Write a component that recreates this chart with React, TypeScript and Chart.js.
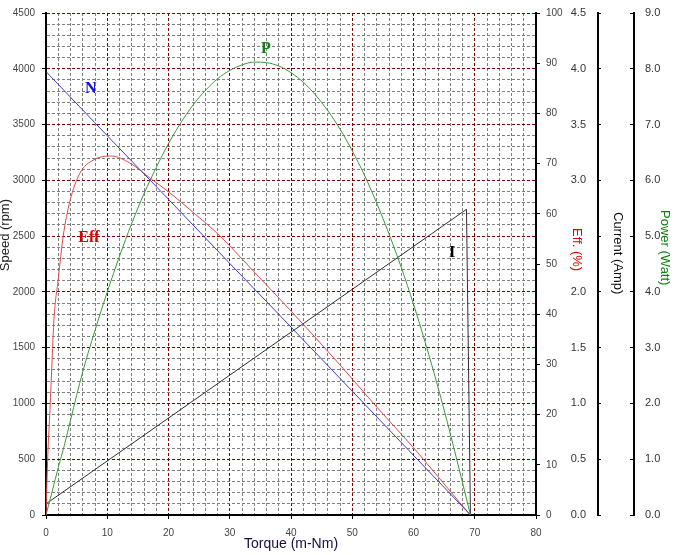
import { useEffect, useRef } from "react";
import { Chart, registerables } from "chart.js";

Chart.register(...registerables);

// speed (rpm) vs torque (m-Nm)
const speedTorque = [0, 10, 20, 30, 40, 50, 60, 69.3];
const speedValues = [3975, 3400, 2830, 2255, 1685, 1110, 535, 0];

// efficiency (%)
const effTorque = [0, 0.3, 0.65, 1.0, 1.3, 2.0, 2.8, 3.9, 5.5, 7.7, 10.7, 13.7, 17, 20.2, 24, 28.4, 33.3, 40.1, 48, 54, 60, 64.3, 67.6, 69.3];
const effValues = [0, 12, 21, 31, 39, 47, 55.5, 62.5, 68, 70.7, 71.5, 70.1, 67.1, 64.2, 60.3, 55.6, 49.3, 40.5, 29.9, 21.5, 13.4, 7.2, 2.4, 0];

// power (W)
const powerTorque = [0, 1, 2, 3, 4, 6, 8, 10, 12, 14, 16, 18, 20, 22, 24, 26, 28, 30, 32, 34, 36, 38, 40, 42, 44, 46, 48, 50, 52, 54, 56, 58, 60, 62, 64, 66, 68, 69.3];
const powerValues = [0, 0.42, 0.85, 1.25, 1.7, 2.57, 3.31, 4.0, 4.64, 5.23, 5.76, 6.23, 6.66, 7.03, 7.35, 7.61, 7.82, 7.97, 8.07, 8.12, 8.11, 8.05, 7.93, 7.76, 7.53, 7.25, 6.92, 6.53, 6.09, 5.59, 5.04, 4.44, 3.78, 3.06, 2.29, 1.46, 0.58, 0];

// current (A)
const currentTorque = [0, 68.65, 69.3];
const currentValues = [0.1, 2.74, 0];

// curve names, anchored in torque / speed units
const curveLabels = [
  { text: "N", torque: 7.3, speed: 3820, color: "#1010e0" },
  { text: "Eff", torque: 7.0, speed: 2480, color: "#dd0000" },
  { text: "P", torque: 35.9, speed: 4177, color: "#108010" },
  { text: "I", torque: 66.3, speed: 2350, color: "#000000" },
];

const toPoints = (xs: number[], ys: number[]) => xs.map((x, i) => ({ x, y: ys[i] }));

const tickFont = { family: "'Liberation Sans', Arial, sans-serif", size: 10 };
const titleFont = (size: number) => ({ family: "'Liberation Sans', Arial, sans-serif", size, lineHeight: 1 });
// padding spaces nudge the rotated titles a little above the axis middle, as in the original
const pad = (n: number) => " ".repeat(n);

const curveLabelPlugin = {
  id: "curveLabels",
  afterDatasetsDraw(chart: any) {
    const { ctx, scales } = chart;
    ctx.save();
    ctx.font = "bold 16px 'Liberation Serif', serif";
    ctx.textAlign = "center";
    ctx.textBaseline = "middle";
    curveLabels.forEach((l) => {
      ctx.fillStyle = l.color;
      ctx.fillText(l.text, scales.x.getPixelForValue(l.torque), scales.speed.getPixelForValue(l.speed));
    });
    ctx.restore();
  },
};

export default function App() {
  const canvas = useRef<HTMLCanvasElement>(null);

  useEffect(() => {
    document.body.style.margin = "0";
    if (!canvas.current) return;

    const chart = new Chart(canvas.current, {
      type: "line",
      data: {
        datasets: [
          {
            label: "N",
            data: toPoints(speedTorque, speedValues),
            yAxisID: "speed",
            borderColor: "#3c3cd0",
            borderWidth: 1,
            pointRadius: 0,
          },
          {
            label: "Eff",
            data: toPoints(effTorque, effValues),
            yAxisID: "eff",
            borderColor: "#e04848",
            borderWidth: 1,
            pointRadius: 0,
            cubicInterpolationMode: "monotone",
          },
          {
            label: "P",
            data: toPoints(powerTorque, powerValues),
            yAxisID: "power",
            borderColor: "#3a9a3a",
            borderWidth: 1,
            pointRadius: 0,
            cubicInterpolationMode: "monotone",
          },
          {
            label: "I",
            data: toPoints(currentTorque, currentValues),
            yAxisID: "current",
            borderColor: "#303030",
            borderWidth: 1,
            pointRadius: 0,
          },
        ],
      },
      options: {
        animation: false,
        responsive: true,
        maintainAspectRatio: false,
        events: [],
        layout: { padding: { top: 13, left: 0, right: 0, bottom: 0 } },
        plugins: { legend: { display: false }, tooltip: { enabled: false } },
        scales: {
          x: {
            type: "linear",
            position: "bottom",
            min: 0,
            max: 80,
            ticks: {
              stepSize: 2,
              autoSkip: false,
              maxRotation: 0,
              padding: 8,
              font: tickFont,
              color: "#444",
              callback: (v: any) => (v % 10 === 0 ? String(v) : ""),
            },
            grid: {
              color: (c: any) => (c.tick && c.tick.value % 10 === 0 ? "#800000" : "#808080"),
              lineWidth: 1,
              tickLength: 4,
              tickColor: (c: any) => (c.tick && c.tick.value % 10 === 0 ? "#000" : "rgba(0,0,0,0)"),
            },
            border: { color: "#000", width: 2, dash: [3, 2] },
            title: {
              display: true,
              text: "Torque (m-Nm)",
              color: "#1a0a40",
              font: titleFont(14),
              padding: { top: 0, bottom: 4 },
            },
            afterFit: (s: any) => {
              s.height = 40;
            },
          },
          speed: {
            type: "linear",
            position: "left",
            min: 0,
            max: 4500,
            ticks: {
              stepSize: 100,
              autoSkip: false,
              padding: 7,
              font: tickFont,
              color: "#444",
              callback: (v: any) => (v % 500 === 0 ? String(v) : ""),
            },
            grid: {
              color: (c: any) => (c.tick && c.tick.value % 500 === 0 ? "#800000" : "#808080"),
              lineWidth: 1,
              tickLength: 4,
              tickColor: (c: any) => (c.tick && c.tick.value % 500 === 0 ? "#000" : "rgba(0,0,0,0)"),
            },
            border: { color: "#000", width: 2, dash: [3, 2] },
            title: {
              display: true,
              text: pad(16) + "Speed (rpm)",
              color: "#222",
              font: titleFont(13),
              padding: { top: -1, bottom: 0 },
            },
            afterFit: (s: any) => {
              s.width = 46;
            },
          },
          eff: {
            type: "linear",
            position: "right",
            weight: 1,
            min: 0,
            max: 100,
            ticks: { stepSize: 10, autoSkip: false, padding: 6, font: tickFont, color: "#444" },
            grid: { drawOnChartArea: false, tickLength: 4, tickColor: "#000" },
            border: { color: "#000", width: 2 },
            title: {
              display: true,
              text: "Eff. (%)" + pad(8),
              color: "#e00000",
              font: titleFont(13),
              padding: { top: 14.5, bottom: 0 },
            },
            afterFit: (s: any) => {
              s.width = 62;
            },
          },
          current: {
            type: "linear",
            position: "right",
            weight: 2,
            min: 0,
            max: 4.5,
            ticks: {
              stepSize: 0.5,
              autoSkip: false,
              mirror: true,
              crossAlign: "near",
              padding: -12,
              font: { ...tickFont, size: 11 },
              color: "#333",
              callback: (v: any) => (v === 2.5 ? "" : Number(v).toFixed(1)),
            },
            grid: { drawOnChartArea: false, tickLength: 3, tickColor: "#000" },
            border: { color: "#000", width: 2 },
            title: {
              display: true,
              text: "Current (Amp)" + pad(6),
              color: "#111",
              font: titleFont(13),
              padding: { top: 9.5, bottom: 0 },
            },
            afterFit: (s: any) => {
              s.width = 36;
              s.paddingTop = 6;
              s.paddingBottom = 6;
            },
          },
          power: {
            type: "linear",
            position: "right",
            weight: 3,
            min: 0,
            max: 9,
            ticks: {
              stepSize: 1,
              autoSkip: false,
              padding: 15,
              font: { ...tickFont, size: 11 },
              color: "#333",
              callback: (v: any) => Number(v).toFixed(1),
            },
            grid: { drawOnChartArea: false, tickLength: -4, tickColor: "#000" },
            border: { color: "#000", width: 2 },
            title: {
              display: true,
              text: "Power (Watt)" + pad(9),
              color: "#108010",
              font: titleFont(13),
              padding: { top: 6.5, bottom: 0 },
            },
            afterFit: (s: any) => {
              s.width = 44;
              s.paddingTop = 6;
              s.paddingBottom = 6;
            },
          },
        },
      },
      plugins: [curveLabelPlugin],
    } as any);

    return () => {
      chart.destroy();
    };
  }, []);

  return (
    <div style={{ position: "relative", width: 678, height: 555 }}>
      <canvas ref={canvas}></canvas>
    </div>
  );
}
